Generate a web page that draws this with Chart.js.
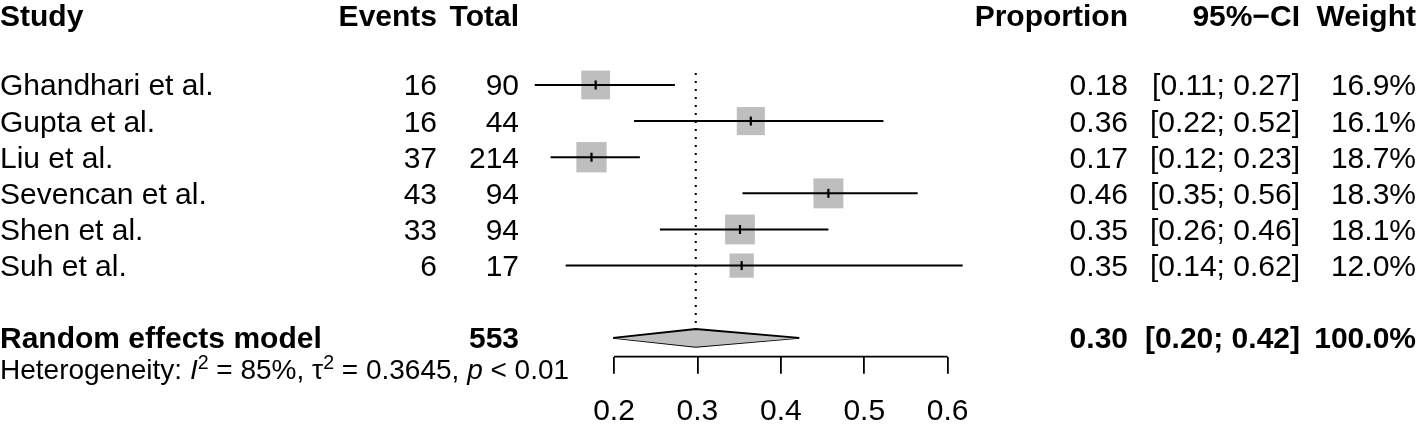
<!DOCTYPE html>
<html>
<head>
<meta charset="utf-8">
<script src="https://cdn.jsdelivr.net/npm/chart.js@4.4.0/dist/chart.umd.min.js"></script>
<style>
html,body{margin:0;padding:0;background:#fff;}
#wrap{width:1418px;height:424px;position:relative;}
canvas{display:block;}
</style>
</head>
<body>
<div id="wrap"><canvas id="c" width="1418" height="424"></canvas></div>
<script>
// ---------- DATA ----------
const studies = ['Ghandhari et al.', 'Gupta et al.', 'Liu et al.', 'Sevencan et al.', 'Shen et al.', 'Suh et al.'];
const events = [16, 16, 37, 43, 33, 6];
const totals = [90, 44, 214, 94, 94, 17];
const proportion = [0.178, 0.364, 0.173, 0.457, 0.351, 0.353];
const ciLower = [0.105, 0.224, 0.124, 0.354, 0.255, 0.142];
const ciUpper = [0.273, 0.523, 0.231, 0.564, 0.457, 0.618];
const weights = [16.9, 16.1, 18.7, 18.3, 18.1, 12.0];
const propLabels = ['0.18', '0.36', '0.17', '0.46', '0.35', '0.35'];
const ciLabels = ['[0.11; 0.27]', '[0.22; 0.52]', '[0.12; 0.23]', '[0.35; 0.56]', '[0.26; 0.46]', '[0.14; 0.62]'];
const weightLabels = ['16.9%', '16.1%', '18.7%', '18.3%', '18.1%', '12.0%'];

const pooledName = 'Random effects model';
const pooledTotal = '553';
const pooledEst = 0.298;
const pooledLower = 0.199;
const pooledUpper = 0.422;
const pooledLabels = ['0.30', '[0.20; 0.42]', '100.0%'];

const headers = ['Study', 'Events', 'Total', 'Proportion', '95%\u2212CI', 'Weight'];
const hetI2 = '85%';
const hetTau2 = '0.3645';
const hetP = '< 0.01';

const tickValues = [0.2, 0.3, 0.4, 0.5, 0.6];
const tickLabels = ['0.2', '0.3', '0.4', '0.5', '0.6'];

// ---------- LAYOUT ----------
const FONT = '"Liberation Sans", Arial, Helvetica, sans-serif';
const X_MIN = 0.05, X_MAX = 0.7;
const POOLED_ROW = 8;
const Y_MIN = 0.5, Y_MAX = 8.521;
const REF_TOP = 0.67, REF_BOTTOM = 7.6;
const DIAMOND_H = 0.245;
const BOX_SCALE = 4.95;
const COL = {study: 0, events: 437, total: 519, prop: 1128, ci: 1300, weight: 1416};
const HEADER_BASE = 26, ROW_TEXT_OFF = 10.5, HET_BASE = 379, HET_SIZE = 28;

const rowOf = i => i + 1;

const datasets = [];
// x axis line (spans first to last tick only)
datasets.push({
  data: [{x: tickValues[0], y: Y_MAX}, {x: tickValues[tickValues.length - 1], y: Y_MAX}],
  showLine: true, borderColor: '#000', borderWidth: 1.8, pointRadius: 0, order: 7, clip: false
});
// reference (dotted) line at pooled estimate
datasets.push({
  data: [{x: pooledEst, y: REF_TOP}, {x: pooledEst, y: REF_BOTTOM}],
  showLine: true, borderColor: '#000', borderWidth: 2, borderDash: [2, 6],
  pointRadius: 0, order: 6, clip: false
});
// confidence interval lines
studies.forEach((s, i) => {
  datasets.push({
    data: [{x: ciLower[i], y: rowOf(i)}, {x: ciUpper[i], y: rowOf(i)}],
    showLine: true, borderColor: '#000', borderWidth: 2,
    pointRadius: 0, order: 2, clip: false
  });
});
// weight squares
datasets.push({
  data: proportion.map((p, i) => ({x: p, y: rowOf(i)})),
  pointStyle: 'rect', pointRadius: weights.map(w => BOX_SCALE * Math.sqrt(w)),
  backgroundColor: '#bebebe', borderWidth: 0, order: 4, clip: false
});
// estimate ticks
datasets.push({
  data: proportion.map((p, i) => ({x: p, y: rowOf(i)})),
  pointStyle: 'line', pointRotation: 90, pointRadius: 4.5,
  borderColor: '#000', borderWidth: 2.2, order: 1, clip: false
});
// pooled diamond (upper half filled to lower half)
datasets.push({
  data: [{x: pooledLower, y: POOLED_ROW}, {x: pooledEst, y: POOLED_ROW - DIAMOND_H}, {x: pooledUpper, y: POOLED_ROW}],
  showLine: true, borderColor: '#000', borderWidth: 1.8, pointRadius: 0,
  fill: '+1', backgroundColor: '#bfbfbf', order: 3, clip: false, tension: 0
});
datasets.push({
  data: [{x: pooledLower, y: POOLED_ROW}, {x: pooledEst, y: POOLED_ROW + DIAMOND_H}, {x: pooledUpper, y: POOLED_ROW}],
  showLine: true, borderColor: '#000', borderWidth: 1.8, pointRadius: 0,
  fill: false, order: 3, clip: false, tension: 0
});

const f = (weight, size = 30, style = 'normal') => `${style} ${weight} ${size}px ${FONT}`;

const textPlugin = {
  id: 'forestText',
  afterDraw(chart) {
    const ctx = chart.ctx;
    const ys = chart.scales.y;
    ctx.save();
    ctx.fillStyle = '#000';
    ctx.textBaseline = 'alphabetic';
    const put = (t, x, y, align, font) => { ctx.font = font; ctx.textAlign = align; ctx.fillText(t, x, y); };

    // header
    put(headers[0], COL.study, HEADER_BASE, 'left', f('bold'));
    put(headers[1], COL.events, HEADER_BASE, 'right', f('bold'));
    put(headers[2], COL.total, HEADER_BASE, 'right', f('bold'));
    put(headers[3], COL.prop, HEADER_BASE, 'right', f('bold'));
    put(headers[4], COL.ci, HEADER_BASE, 'right', f('bold'));
    put(headers[5], COL.weight, HEADER_BASE, 'right', f('bold'));

    // studies
    studies.forEach((s, i) => {
      const y = ys.getPixelForValue(rowOf(i)) + ROW_TEXT_OFF;
      put(s, COL.study, y, 'left', f('normal'));
      put(String(events[i]), COL.events, y, 'right', f('normal'));
      put(String(totals[i]), COL.total, y, 'right', f('normal'));
      put(propLabels[i], COL.prop, y, 'right', f('normal'));
      put(ciLabels[i], COL.ci, y, 'right', f('normal'));
      put(weightLabels[i], COL.weight, y, 'right', f('normal'));
    });

    // pooled
    const py = ys.getPixelForValue(POOLED_ROW) + ROW_TEXT_OFF;
    put(pooledName, COL.study, py, 'left', f('bold'));
    put(pooledTotal, COL.total, py, 'right', f('bold'));
    put(pooledLabels[0], COL.prop, py, 'right', f('bold'));
    put(pooledLabels[1], COL.ci, py, 'right', f('bold'));
    put(pooledLabels[2], COL.weight, py, 'right', f('bold'));

    // heterogeneity
    let hx = COL.study;
    ctx.textAlign = 'left';
    const sup = HET_SIZE * 0.7, rise = -HET_SIZE * 0.37;
    const seg = (t, font, dy = 0) => { ctx.font = font; ctx.fillText(t, hx, HET_BASE + dy); hx += ctx.measureText(t).width; };
    seg('Heterogeneity: ', f('normal', HET_SIZE));
    seg('I', f('normal', HET_SIZE, 'italic'));
    seg('2', f('normal', sup), rise);
    seg(' = ' + hetI2 + ', ', f('normal', HET_SIZE));
    seg('\u03C4', f('normal', HET_SIZE));
    seg('2', f('normal', sup), rise);
    seg(' = ' + hetTau2 + ', ', f('normal', HET_SIZE));
    seg('p', f('normal', HET_SIZE, 'italic'));
    seg(' ' + hetP, f('normal', HET_SIZE));
    ctx.restore();
  }
};

new Chart(document.getElementById('c'), {
  type: 'scatter',
  data: {datasets},
  options: {
    responsive: false,
    animation: false,
    devicePixelRatio: 1,
    layout: {padding: {left: 488.9, right: 386.9, top: 66.9, bottom: 0}},
    plugins: {legend: {display: false}, tooltip: {enabled: false}},
    events: [],
    scales: {
      x: {
        type: 'linear', min: X_MIN, max: X_MAX, position: 'bottom',
        afterBuildTicks: s => { s.ticks = tickValues.map(v => ({value: v})); },
        afterFit: s => { s.height = 424 - 356.7; },
        grid: {drawOnChartArea: false, drawTicks: true, tickLength: 17, color: '#000', lineWidth: 1.8},
        border: {display: false},
        ticks: {color: '#000', font: {size: 30, family: FONT}, padding: 20, maxRotation: 0, autoSkip: false,
                callback: (v, i) => tickLabels[i]}
      },
      y: {type: 'linear', min: Y_MIN, max: Y_MAX, reverse: true, display: false}
    }
  },
  plugins: [textPlugin]
});
</script>
</body>
</html>
